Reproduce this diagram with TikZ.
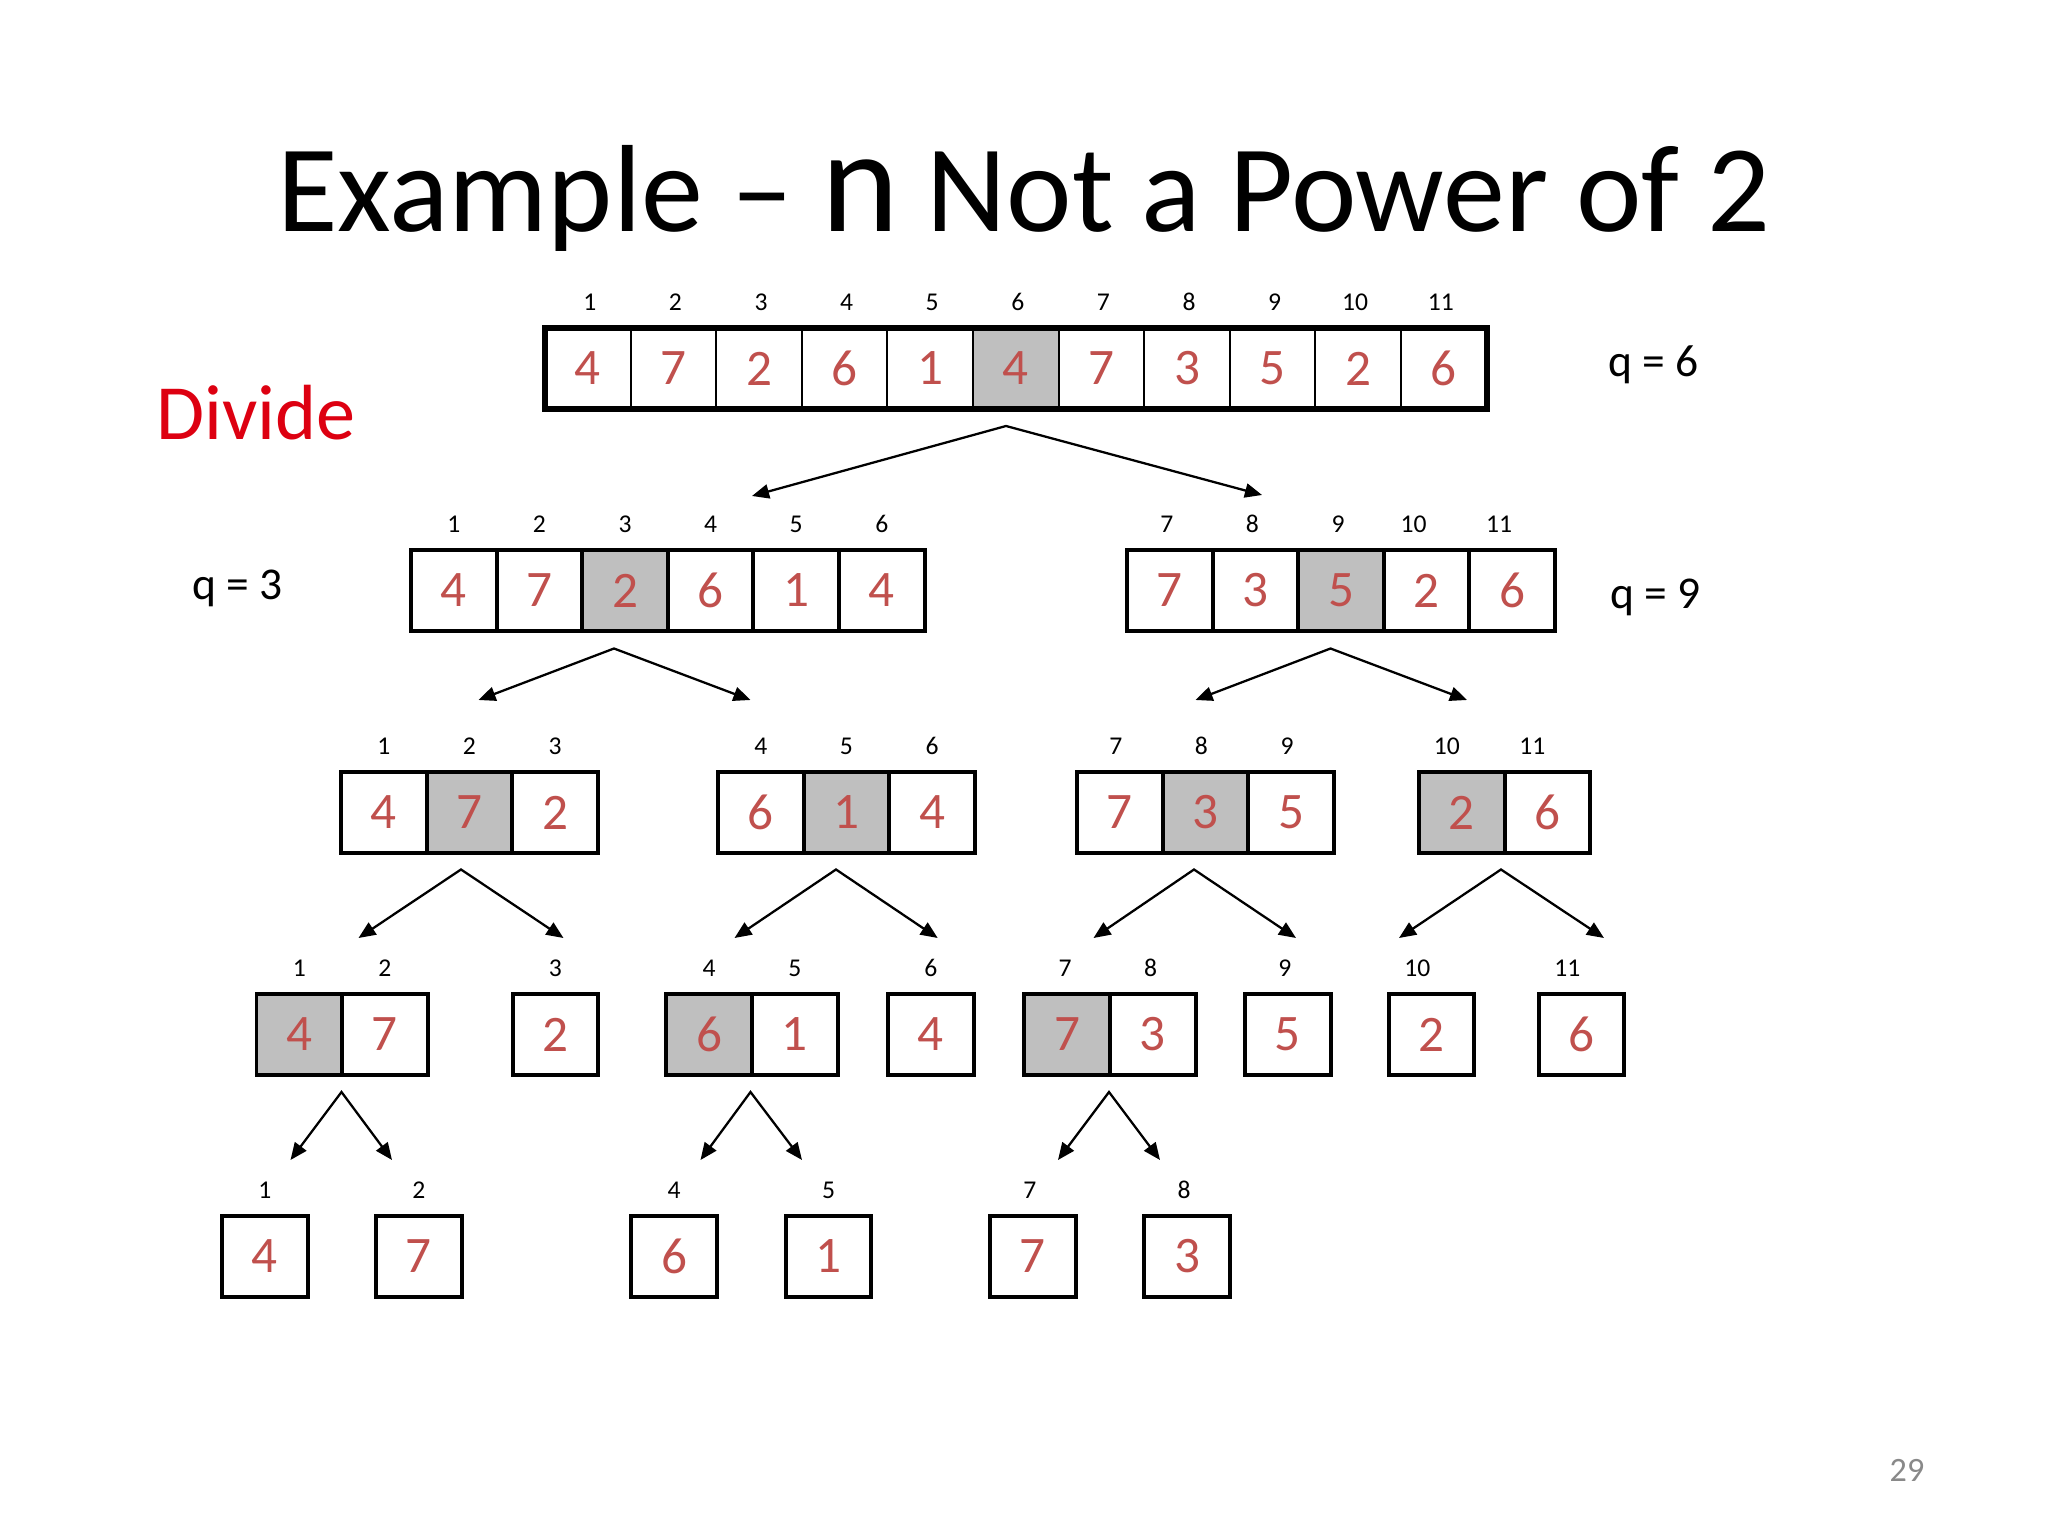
\documentclass[tikz,border=0pt]{standalone}
\usepackage{fontspec}
\setmainfont{Carlito}
\usetikzlibrary{arrows.meta}
\definecolor{valred}{RGB}{192,80,77}
\definecolor{cellgray}{RGB}{191,191,191}
\definecolor{divred}{RGB}{221,0,17}
\definecolor{pagegray}{RGB}{137,137,137}
\def\pu{0.3515625pt}
\newcommand\cellrow[6]{%
  \foreach [count=\i] \v/\k/\g in {#4} {%
    \pgfmathsetmacro\offx{\k>9 ? #6 : #5}%
    \node[cellbox,\g] (#1-\i) at ({#2+(\i-1)*85.6},#3) {\v};
    \node[idxlabel] (#1-l\i) at ({#2+(\i-0.5)*85.6+\offx},{#3-26}) {\k};
  }%
}
\tikzset{
  cellbox/.style={draw, line width=1.4pt, minimum width=85.6*\pu, minimum height=81*\pu,
    inner sep=0pt, outer sep=0pt, anchor=north west, text=valred,
    font=\fontsize{18}{18}\selectfont},
  wcell/.style={fill=white},
  gcell/.style={fill=cellgray},
  idxlabel/.style={inner sep=0pt, font=\fontsize{9}{9}\selectfont},
  qlabel/.style={inner sep=0pt, anchor=base west, font=\fontsize{16}{16}\selectfont},
  arr/.style={line width=0.8pt, line join=miter,
    {Triangle[length=6pt,width=5pt]}-{Triangle[length=6pt,width=5pt]}},
}
\begin{document}
\begin{tikzpicture}[x=\pu, y=-\pu]
\useasboundingbox (0,0) rectangle (2048,1536);
\fill[white] (0,0) rectangle (2048,1536);

% title and side texts
\node[anchor=base, inner sep=0pt, font=\fontsize{43.6}{44}\selectfont] (title) at (1024,232)
  {Example – {\fontsize{52}{52}\selectfont n} Not a Power of 2};
\node[anchor=base west, inner sep=0pt, text=divred, font=\fontsize{27.5}{27.5}\selectfont] (divide) at (156,440) {Divide};
\node[qlabel] (q6) at (1608,377) {q = 6};
\node[qlabel] (q3) at (192,600) {q = 3};
\node[qlabel] (q9) at (1610,609) {q = 9};
\node[anchor=base, inner sep=0pt, text=pagegray, font=\fontsize{12}{12}\selectfont] (page) at (1907,1481) {29};

% level 1
\begin{scope}[cellbox/.append style={line width=0.7pt}]
\cellrow{a}{545}{328}{4/1/wcell,7/2/wcell,2/3/wcell,6/4/wcell,1/5/wcell,4/6/gcell,7/7/wcell,3/8/wcell,5/9/wcell,2/10/wcell,6/11/wcell}{2}{-3}
\end{scope}
\draw[line width=2.1pt] (a-1.north west) rectangle (a-11.south east);

% level 2
\cellrow{b}{411}{550}{4/1/wcell,7/2/wcell,2/3/gcell,6/4/wcell,1/5/wcell,4/6/wcell}{0}{0}
\cellrow{c}{1127}{550}{7/7/wcell,3/8/wcell,5/9/gcell,2/10/wcell,6/11/wcell}{-3}{-13}

% level 3
\cellrow{d}{341}{772}{4/1/wcell,7/2/gcell,2/3/wcell}{0}{0}
\cellrow{e}{718}{772}{6/4/wcell,1/5/gcell,4/6/wcell}{0}{0}
\cellrow{f}{1077}{772}{7/7/wcell,3/8/gcell,5/9/wcell}{-4}{-4}
\cellrow{g}{1419}{772}{2/10/gcell,6/11/wcell}{-4}{-15}

% level 4
\cellrow{h}{256.5}{994}{4/1/gcell,7/2/wcell}{0}{0}
\cellrow{i}{512.6}{994}{2/3/wcell}{0}{0}
\cellrow{j}{666.4}{994}{6/4/gcell,1/5/wcell}{0}{0}
\cellrow{k}{888}{994}{4/6/wcell}{0}{0}
\cellrow{l}{1024.3}{994}{7/7/gcell,3/8/wcell}{-2}{-2}
\cellrow{m}{1245}{994}{5/9/wcell}{-3}{-3}
\cellrow{n}{1388.6}{994}{2/10/wcell}{-14}{-14}
\cellrow{o}{1538.6}{994}{6/11/wcell}{-14}{-14}

% level 5
\cellrow{p}{222}{1216}{4/1/wcell}{0}{0}
\cellrow{r}{376}{1216}{7/2/wcell}{0}{0}
\cellrow{s}{631.4}{1216}{6/4/wcell}{0}{0}
\cellrow{t}{785.8}{1216}{1/5/wcell}{0}{0}
\cellrow{u}{990}{1216}{7/7/wcell}{-3}{-3}
\cellrow{w}{1144.4}{1216}{3/8/wcell}{-3}{-3}

% arrows
\coordinate (ap1) at (1006,426);  \coordinate (tl1) at (752,496);   \coordinate (tr1) at (1262,495);
\coordinate (ap2) at (614,648.5); \coordinate (tl2) at (478.5,700); \coordinate (tr2) at (750.5,700);
\coordinate (ap3) at (1330.5,648.5); \coordinate (tl3) at (1195.5,700); \coordinate (tr3) at (1467,700);
\coordinate (ap4) at (461,869.5); \coordinate (tl4) at (358.5,938); \coordinate (tr4) at (563.5,938);
\coordinate (ap5) at (836,869.5); \coordinate (tl5) at (734.5,938); \coordinate (tr5) at (937.7,938);
\coordinate (ap6) at (1194,869.5); \coordinate (tl6) at (1093.5,938); \coordinate (tr6) at (1296,938);
\coordinate (ap7) at (1501,869.5); \coordinate (tl7) at (1399,938); \coordinate (tr7) at (1604,938);
\coordinate (ap8) at (341.5,1092); \coordinate (tl8) at (290.5,1160); \coordinate (tr8) at (392,1160);
\coordinate (ap9) at (750.5,1092); \coordinate (tl9) at (700.5,1160); \coordinate (tr9) at (802,1160);
\coordinate (ap10) at (1109,1092); \coordinate (tl10) at (1058,1160); \coordinate (tr10) at (1160,1160);
\foreach \n in {1,...,10} {
  \draw[arr] (tl\n) -- (ap\n) -- (tr\n);
}
\end{tikzpicture}
\end{document}
